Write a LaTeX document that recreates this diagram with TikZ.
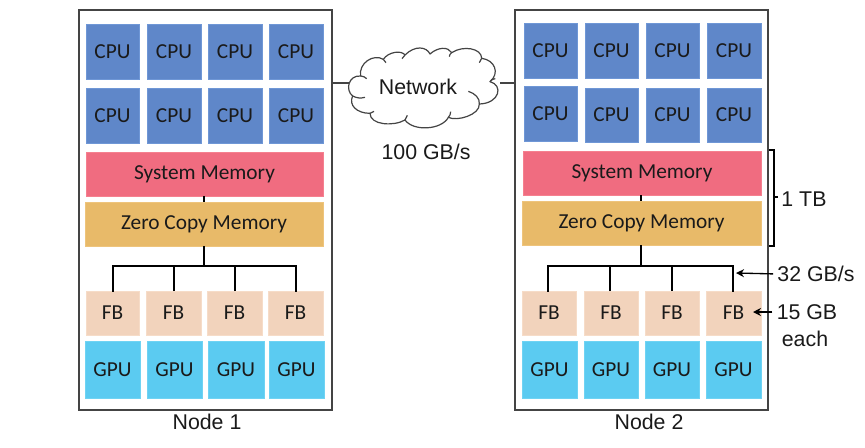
\documentclass[tikz,border=0pt]{standalone}
\usepackage{fontspec}
\setmainfont{Liberation Sans}
\newfontfamily\carl{Carlito}
\usetikzlibrary{arrows.meta,calc}
\definecolor{cpuc}{HTML}{5F87C9}
\definecolor{cpue}{HTML}{6F97D6}
\definecolor{memc}{HTML}{F06C80}
\definecolor{meme}{HTML}{F5808F}
\definecolor{zcc}{HTML}{E8BA69}
\definecolor{zce}{HTML}{EEC47C}
\definecolor{fbc}{HTML}{F2D3BC}
\definecolor{fbe}{HTML}{F6DCC8}
\definecolor{gpuc}{HTML}{5BCBF1}
\definecolor{gpue}{HTML}{6FD3F3}
\definecolor{frame}{HTML}{444444}
\definecolor{ink}{HTML}{1A1A1A}
\tikzset{
  unit/.style={inner sep=0pt,outer sep=0pt,line width=0.7pt,text=ink,font=\carl\fontsize{16}{18}\selectfont},
  cpubox/.style={unit,fill=cpuc,draw=cpue},
  membox/.style={unit,fill=memc,draw=meme},
  zcbox/.style={unit,fill=zcc,draw=zce},
  fbbox/.style={unit,fill=fbc,draw=fbe},
  gpubox/.style={unit,fill=gpuc,draw=gpue},
  nodeframe/.style={inner sep=0pt,outer sep=0pt,draw=frame,line width=1pt},
  bus/.style={draw=black,line width=1.5pt},
  link/.style={draw=frame,line width=0.9pt},
  note/.style={inner sep=0pt,text=ink,font=\fontsize{16}{18}\selectfont},
  ptr/.style={draw=black,line width=1pt,shorten <=3pt,-{Stealth[length=6pt,width=6pt]}},
  brace/.style={draw=black,line width=0.9pt},
}
\newcommand{\bx}[7]{%
  \pgfmathsetmacro{\bw}{(#5-#3)*0.75}%
  \pgfmathsetmacro{\bh}{(#6-#4)*0.75}%
  \node[#2,minimum width=\bw pt,minimum height=\bh pt] (#1) at ({(#3+#5)/2},{(#4+#6)/2}) {\raisebox{-0.8pt}{#7}};}
\begin{document}
\begin{tikzpicture}[x=0.75pt,y=-0.75pt]
\path[use as bounding box,fill=white] (0,0) rectangle (865,447);
% frames
\bx{n1}{nodeframe}{79}{10}{332}{410}{}
\bx{n2}{nodeframe}{515}{10}{768}{410}{}
% left node
\bx{la1}{cpubox}{86}{24}{139}{79}{CPU}
\bx{la2}{cpubox}{147}{24}{201}{79}{CPU}
\bx{la3}{cpubox}{208}{24}{262}{79}{CPU}
\bx{la4}{cpubox}{269}{24}{323}{79}{CPU}
\bx{lb1}{cpubox}{86}{88}{139}{143}{CPU}
\bx{lb2}{cpubox}{147}{88}{201}{143}{CPU}
\bx{lb3}{cpubox}{208}{88}{262}{143}{CPU}
\bx{lb4}{cpubox}{269}{88}{323}{143}{CPU}
\bx{lm}{membox}{86}{152}{323}{196}{System Memory}
\bx{lz}{zcbox}{85}{202}{323}{246}{Zero Copy Memory}
\bx{lf1}{fbbox}{86}{291}{139}{335}{FB}
\bx{lf2}{fbbox}{146}{291}{201}{335}{FB}
\bx{lf3}{fbbox}{207}{291}{262}{335}{FB}
\bx{lf4}{fbbox}{268}{291}{323}{335}{FB}
\bx{lg1}{gpubox}{85}{341}{140}{398}{GPU}
\bx{lg2}{gpubox}{147}{341}{202}{398}{GPU}
\bx{lg3}{gpubox}{208}{341}{264}{398}{GPU}
\bx{lg4}{gpubox}{269}{341}{324}{398}{GPU}
% right node
\bx{ra1}{cpubox}{524}{23}{577}{78}{CPU}
\bx{ra2}{cpubox}{585}{23}{638}{78}{CPU}
\bx{ra3}{cpubox}{646}{23}{699}{78}{CPU}
\bx{ra4}{cpubox}{707}{23}{761}{78}{CPU}
\bx{rb1}{cpubox}{524}{86}{577}{141}{CPU}
\bx{rb2}{cpubox}{585}{88}{638}{142}{CPU}
\bx{rb3}{cpubox}{646}{88}{699}{142}{CPU}
\bx{rb4}{cpubox}{707}{88}{761}{142}{CPU}
\bx{rm}{membox}{523}{151}{761}{195}{System Memory}
\bx{rz}{zcbox}{522}{201}{761}{245}{Zero Copy Memory}
\bx{rf1}{fbbox}{522}{291}{576}{335}{FB}
\bx{rf2}{fbbox}{584}{291}{638}{335}{FB}
\bx{rf3}{fbbox}{645}{291}{699}{335}{FB}
\bx{rf4}{fbbox}{706}{291}{761}{335}{FB}
\bx{rg1}{gpubox}{522}{341}{577}{398}{GPU}
\bx{rg2}{gpubox}{584}{341}{638}{398}{GPU}
\bx{rg3}{gpubox}{645}{341}{699}{398}{GPU}
\bx{rg4}{gpubox}{706}{341}{761}{398}{GPU}
% buses
\coordinate (lh) at (204,266);
\coordinate (rh) at (641,266);
\draw[bus] (lz.south -| lh) -- (lh);
\draw[bus] (lm.south -| lh) -- (lz.north -| lh);
\draw[bus] (rz.south -| rh) -- (rh);
\draw[bus] (rm.south -| rh) -- (rz.north -| rh);
\draw[bus,line cap=rect] (lf1.north) -- (lf1.north |- lh) -- (lf4.north |- lh) -- (lf4.north);
\draw[bus] (lf2.north) -- (lf2.north |- lh);
\draw[bus] (lf3.north) -- (lf3.north |- lh);
\coordinate (rd1) at (548,291); \coordinate (rd2) at (610,291);
\coordinate (rd3) at (672,291); \coordinate (rd4) at (733,291);
\draw[bus,line cap=rect] (rd1) -- (rd1 |- rh) -- (rd4 |- rh) -- (rd4);
\draw[bus] (rd2) -- (rd2 |- rh);
\draw[bus] (rd3) -- (rd3 |- rh);
% cloud (traced in 3x crop coordinates)
\begin{scope}[shift={(320,30)},x=0.25pt,y=-0.25pt]
\draw[link,fill=white,line join=round]
  (98,198) .. controls (75,180) and (85,135) .. (122,138)
  .. controls (115,100) and (160,70) .. (190,88)
  .. controls (205,65) and (245,60) .. (255,75)
  .. controls (285,45) and (320,50) .. (330,72)
  .. controls (355,50) and (385,50) .. (395,68)
  .. controls (430,45) and (485,55) .. (485,85)
  .. controls (525,90) and (540,130) .. (510,155)
  .. controls (550,165) and (540,220) .. (478,222)
  .. controls (480,255) and (410,275) .. (385,262)
  .. controls (365,300) and (280,305) .. (255,270)
  .. controls (220,290) and (150,285) .. (150,250)
  .. controls (110,250) and (85,225) .. cycle;
\draw[link] (98,198) to[bend right=20] (135,202);
\draw[link] (122,138) to[bend left=20] (140,146);
\draw[link] (190,88) to[bend right=20] (198,98);
\draw[link] (255,75) to[bend right=20] (246,86);
\draw[link] (395,68) to[bend right=25] (388,80);
\draw[link] (485,85) to[bend right=20] (478,98);
\draw[link] (510,155) to[bend left=25] (526,146);
\draw[link] (478,222) .. controls (480,205) and (465,190) .. (445,184);
\draw[link] (385,262) to[bend right=20] (392,245);
\draw[link] (255,270) to[bend left=20] (262,256);
\draw[link] (150,250) to[bend left=20] (162,244);
\end{scope}
\node[note] (net) at (418,86.5) {Network};
\coordinate (cl) at (349,83);
\coordinate (cr) at (500,83);
\draw[link] (n1.east |- cl) -- (cl);
\draw[link] (cr) -- (n2.west |- cr);
\node[note] (speed) at (426,152) {100 GB/s};
% labels
\node[note] (nl1) at (207,422) {Node 1};
\node[note] (nl2) at (649,422) {Node 2};
\node[note] (tb) at (804,199) {1 TB};
\node[note] (bw) at (816,274) {32 GB/s};
\node[note] (fbs) at (807,312) {15 GB};
\node[note] (each) at (805,339) {each};
% bracket
\coordinate (bt) at (769,150); \coordinate (bb) at (769,246);
\draw[brace] (bt) -- ++(5,0) -- ($(bb)+(5,0)$) -- (bb);
\draw[brace] ($(bt)!0.49!(bb)+(5,0)$) -- ++(4,0);
% pointers
\coordinate (p1) at (736,273);
\coordinate (p2) at (753,312);
\draw[ptr] (bw.west) -- (p1);
\draw[ptr] (fbs.west) -- (p2);
\end{tikzpicture}
\end{document}
